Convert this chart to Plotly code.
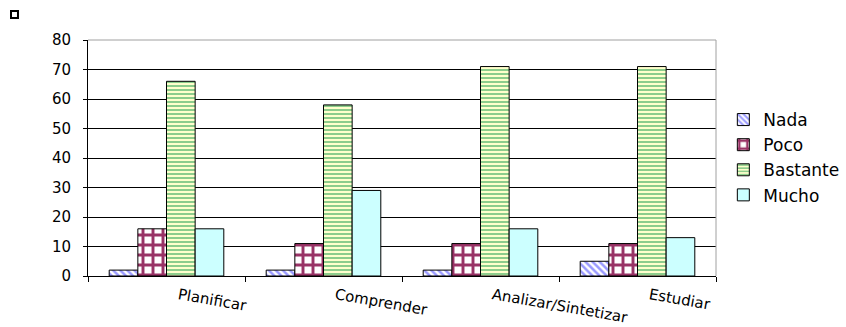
import plotly.graph_objects as go

# Survey results per study skill
categorias = ["Planificar", "Comprender", "Analizar/Sintetizar", "Estudiar"]
nada = [2, 2, 2, 5]
poco = [16, 11, 11, 11]
bastante = [66, 58, 71, 71]
mucho = [16, 29, 16, 13]
y_ticks = [0, 10, 20, 30, 40, 50, 60, 70, 80]

FONT = "DejaVu Sans, Verdana, sans-serif"

series = [
    ("Nada", nada, dict(shape="\\", fgcolor="#9999ff", bgcolor="#ffffff", size=5, solidity=0.5)),
    ("Poco", poco, dict(shape="+", fgcolor="#993366", bgcolor="#ffffff", size=10, solidity=0.5)),
    ("Bastante", bastante, dict(shape="-", fgcolor="#5cb870", bgcolor="#ffffcc", size=4, solidity=0.35)),
    ("Mucho", mucho, dict(shape="", bgcolor="#ccffff")),
]

fig = go.Figure()
for name, vals, pat in series:
    marker = dict(line=dict(color="#000000", width=1), color=pat["bgcolor"])
    if pat.get("shape"):
        marker["pattern"] = dict(shape=pat["shape"], fgcolor=pat["fgcolor"], bgcolor=pat["bgcolor"],
                                 size=pat["size"], solidity=pat["solidity"], fillmode="replace")
    fig.add_trace(go.Bar(name=name, x=categorias, y=vals, marker=marker))

fig.update_layout(
    width=846, height=327,
    margin=dict(l=88, r=130, t=40, b=51, autoexpand=False),
    paper_bgcolor="#ffffff", plot_bgcolor="#ffffff",
    barmode="group", bargap=0.27, bargroupgap=0,
    font=dict(family=FONT, size=14, color="#000000"),
    showlegend=True,
    legend=dict(xref="container", yref="container", x=0.855, y=0.688,
                xanchor="left", yanchor="top",
                font=dict(family=FONT, size=17, color="#000000"),
                bgcolor="rgba(0,0,0,0)", itemwidth=30, tracegroupgap=0),
    xaxis=dict(
        automargin=False,
        showgrid=False, showline=True, linecolor="#000000", linewidth=1,
        ticks="outside", tickson="boundaries", ticklen=5, tickcolor="#000000",
        tickangle=10, ticklabelshift=12, ticklabelstandoff=4,
        tickfont=dict(family=FONT, size=15),
    ),
    yaxis=dict(
        automargin=False,
        range=[0, 80], tickvals=y_ticks, showgrid=True, gridcolor="#000000", gridwidth=1,
        showline=True, linecolor="#000000", linewidth=1, zeroline=False,
        ticks="outside", ticklen=4, tickcolor="#000000", ticklabelstandoff=9,
        tickfont=dict(family=FONT, size=15),
    ),
    shapes=[
        # light frame on the top and right of the plot area
        dict(type="line", xref="paper", yref="paper", x0=0, x1=1, y0=1, y1=1,
             line=dict(color="#a0a0a0", width=1), layer="above"),
        dict(type="line", xref="paper", yref="paper", x0=1, x1=1, y0=0, y1=1,
             line=dict(color="#a0a0a0", width=1), layer="above"),
        # small marker box in the top-left corner
        dict(type="rect", xref="paper", yref="paper", x0=-0.1226, x1=-0.1115, y0=1.093, y1=1.123,
             line=dict(color="#000000", width=2), fillcolor="#ffffff"),
    ],
)

fig.write_html("out.html")
